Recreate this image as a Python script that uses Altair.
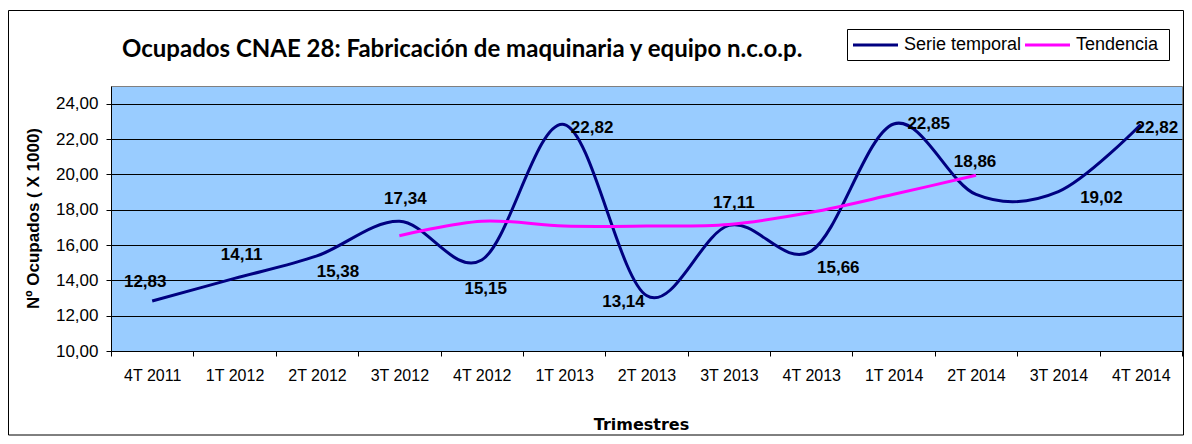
import altair as alt
import pandas as pd

# ---- data ----
quarters = ["4T 2011", "1T 2012", "2T 2012", "3T 2012", "4T 2012", "1T 2013", "2T 2013",
            "3T 2013", "4T 2013", "1T 2014", "2T 2014", "3T 2014", "4T 2014"]
serie = [12.83, 14.11, 15.38, 17.34, 15.15, 22.82, 13.14, 17.11, 15.66, 22.85, 18.86, 19.02, 22.82]
trend_quarters = ["3T 2012", "4T 2012", "1T 2013", "2T 2013", "3T 2013", "4T 2013", "1T 2014", "2T 2014"]
tendencia = [16.52, 17.35, 17.07, 17.07, 17.16, 17.85, 18.87, 19.95]
series_names = ["Serie temporal", "Tendencia"]
series_colors = ["#000080", "#FF00FF"]
y_ticks = [10, 12, 14, 16, 18, 20, 22, 24]

# label placement (pixel nudges of each data label relative to its point)
label_dx = [-7, 7, 21, 6, 4, 28, -23, 5, 27, 35, -1, 43, 16]
label_dy = [-19, -23, 16, -22, 29, 3, 6, -22, 17, 0, -32, 6, 3]

W, H = 1071, 265

rows = []
for i, (q, v) in enumerate(zip(quarters, serie)):
    rows.append({"q": q, "v": v, "s": series_names[0], "i": i})
for q, v in zip(trend_quarters, tendencia):
    rows.append({"q": q, "v": v, "s": series_names[1], "i": quarters.index(q)})
lines_df = pd.DataFrame(rows)

labels_df = pd.DataFrame({
    "q": quarters, "v": serie, "i": list(range(len(quarters))),
    "lab": [f"{v:.2f}".replace(".", ",") for v in serie],
})

x_enc = alt.X(
    "q:N", sort=quarters,
    scale=alt.Scale(type="band", domain=quarters, paddingInner=0, paddingOuter=0),
    axis=alt.Axis(
        title="Trimestres", labelAngle=0, tickBand="extent", grid=False,
        domainColor="black", tickColor="black", tickSize=5, labelOverlap=False,
        labelFont="Liberation Sans", labelFontSize=16, labelColor="black", labelPadding=11,
        titleFont="DejaVu Sans", titleFontSize=16, titleFontWeight="bold", titleColor="black",
        titleX=530, titleY=73, titleBaseline="middle", titleAlign="center",
    ),
)
y_enc = alt.Y(
    "v:Q",
    scale=alt.Scale(domain=[10, 25], nice=False, zero=False),
    axis=alt.Axis(
        values=y_ticks, tickCount=20, labelOverlap=False,
        labelExpr="replace(format(datum.value, '.2f'), '.', ',')",
        grid=True, gridColor="black", gridWidth=1, gridOpacity=1,
        tickSize=5, tickColor="black", domainColor="black",
        labelFont="Liberation Sans", labelFontSize=17, labelColor="black", labelPadding=8,
        title="Nº Ocupados ( X 1000)", titleFont="Liberation Sans", titleFontSize=17,
        titleFontWeight="bold", titleColor="black", titleAngle=270,
        titleX=-78, titleY=132, titleAlign="center", titleBaseline="middle",
    ),
)

lines = alt.Chart(lines_df).mark_line(interpolate="cardinal", strokeWidth=3).encode(
    x=x_enc, y=y_enc,
    color=alt.Color("s:N", scale=alt.Scale(domain=series_names, range=series_colors), legend=None),
    order=alt.Order("i:Q"),
)

label_layers = []
for i in range(len(quarters)):
    label_layers.append(
        alt.Chart(labels_df).transform_filter(alt.datum.i == i).mark_text(
            font="Liberation Sans", fontWeight="bold", fontSize=17, color="black",
            align="center", baseline="middle", dx=label_dx[i], dy=label_dy[i],
        ).encode(x=alt.X("q:N", sort=quarters), y=alt.Y("v:Q"), text="lab:N")
    )

one = alt.Data(values=[{"k": 1}])
frame = alt.Chart(one).mark_rect(fill=None, stroke="black", strokeWidth=1).encode(
    x=alt.value(-102.5), x2=alt.value(W + 1.5), y=alt.value(-75.5), y2=alt.value(H + 84),
)
title = alt.Chart(one).mark_text(
    text="Ocupados CNAE 28: Fabricación de maquinaria y equipo n.c.o.p.",
    font="Lato", fontWeight="bold", fontSize=24, color="black",
    align="left", baseline="alphabetic",
).encode(x=alt.value(11), y=alt.value(-29))

# legend box drawn as decoration
leg_box = alt.Chart(one).mark_rect(fill="white", stroke="black", strokeWidth=1).encode(
    x=alt.value(736.5), x2=alt.value(1058.5), y=alt.value(-56.5), y2=alt.value(-25.5),
)
leg_items = [leg_box]
for name, col, x0 in zip(series_names, series_colors, [742, 914]):
    leg_items.append(alt.Chart(one).mark_rule(stroke=col, strokeWidth=3).encode(
        x=alt.value(x0), x2=alt.value(x0 + 45), y=alt.value(-41), y2=alt.value(-41)))
    leg_items.append(alt.Chart(one).mark_text(
        text=name, font="Liberation Sans", fontSize=18, color="black",
        align="left", baseline="middle").encode(x=alt.value(x0 + 51), y=alt.value(-41)))

chart = alt.layer(frame, lines, *label_layers, title, *leg_items).properties(
    width=W, height=H,
    autosize=alt.AutoSizeParams(type="none"),
    padding={"left": 103, "top": 78, "right": 2, "bottom": 85},
    background="white",
).configure_view(fill="#99CCFF", stroke="#808080", strokeWidth=1)

chart.save("out.html", embed_options={"renderer": "svg", "actions": False})
